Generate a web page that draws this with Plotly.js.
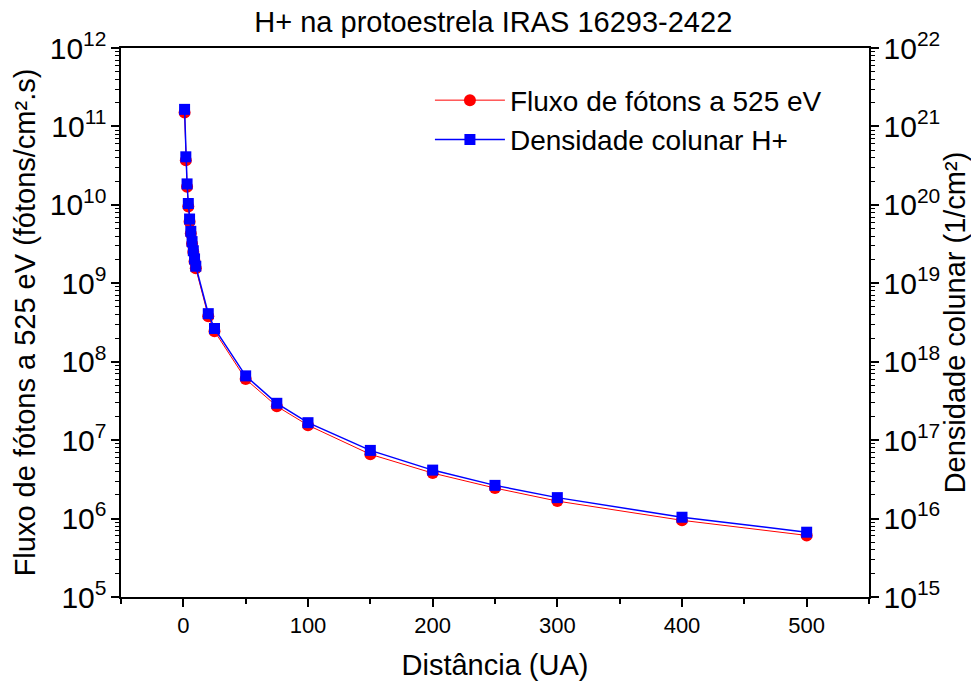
<!DOCTYPE html>
<html>
<head>
<meta charset="utf-8">
<script src="https://cdn.plot.ly/plotly-3.0.1.min.js"></script>
<style>html,body{margin:0;padding:0;background:#fff;}#chart{width:971px;height:686px;}</style>
</head>
<body>
<div id="chart"></div>
<script>
const distancia = [1, 2, 3, 4, 5, 6, 7, 8, 9, 10, 20, 25, 50, 75, 100, 150, 200, 250, 300, 400, 500];
const fluxo = [1.5e11, 3.7e10, 1.7e10, 9.5e9, 6.1e9, 4.3e9, 3.2e9, 2.5e9, 1.9e9, 1.55e9,
               3.8e8, 2.45e8, 6.0e7, 2.7e7, 1.55e7, 6.6e6, 3.8e6, 2.45e6, 1.67e6, 9.5e5, 6.1e5];
const densidade = [1.65e21, 4.1e20, 1.85e20, 1.04e20, 6.6e19, 4.6e19, 3.4e19, 2.6e19, 2.05e19, 1.65e19,
                   4.1e18, 2.65e18, 6.6e17, 2.95e17, 1.67e17, 7.4e16, 4.15e16, 2.65e16, 1.85e16, 1.04e16, 6.7e15];

const font = 'Liberation Sans, Arial, sans-serif';

const traces = [
  {
    x: distancia, y: fluxo, name: 'Fluxo de fótons a 525 eV', type: 'scatter', mode: 'lines+markers',
    line: {color: '#ff0000', width: 1}, marker: {symbol: 'circle', size: 12, color: '#ff0000'},
    yaxis: 'y'
  },
  {
    x: distancia, y: densidade, name: 'Densidade colunar H+', type: 'scatter', mode: 'lines+markers',
    line: {color: '#0000ff', width: 1.5}, marker: {symbol: 'square', size: 11, color: '#0000ff'},
    yaxis: 'y2'
  }
];

const layout = {
  width: 971, height: 686,
  margin: {l: 121, r: 102, t: 48, b: 89},
  paper_bgcolor: '#fff', plot_bgcolor: '#fff',
  font: {family: font, color: '#000', size: 22},
  title: {text: 'H+ na protoestrela IRAS 16293-2422', font: {size: 29}, x: 0.508, xanchor: 'center', y: 0.968, yanchor: 'middle'},
  showlegend: true,
  legend: {x: 0.413, y: 0.95, xanchor: 'left', yanchor: 'top', font: {size: 28}, bgcolor: 'rgba(0,0,0,0)', tracegroupgap: 0, itemwidth: 70},
  xaxis: {
    range: [-50, 550], dtick: 100, tick0: 0,
    showgrid: false, zeroline: false,
    showline: true, linecolor: '#000', linewidth: 1.5, mirror: true,
    ticks: 'outside', ticklen: 8, tickwidth: 1.5, tickcolor: '#000',
    minor: {dtick: 50, tick0: 0, ticks: 'outside', ticklen: 5, tickwidth: 1.5, tickcolor: '#000', showgrid: false},
    tickfont: {size: 22},
    title: {text: 'Distância (UA)', font: {size: 29}, standoff: 18}
  },
  yaxis: {
    type: 'log', range: [5, 12], dtick: 1,
    showgrid: false, zeroline: false,
    showline: true, linecolor: '#000', linewidth: 1.5,
    ticks: 'outside', ticklen: 8, tickwidth: 1.5, tickcolor: '#000',
    minor: {dtick: 'D1', ticks: 'outside', ticklen: 4, tickwidth: 1, tickcolor: '#000', showgrid: false},
    exponentformat: 'power', tickfont: {size: 24},
    title: {text: 'Fluxo de fótons a 525 eV (fótons/cm².s)', font: {size: 29}, standoff: 6}
  },
  yaxis2: {
    type: 'log', range: [15, 22], dtick: 1, overlaying: 'y', side: 'right',
    showgrid: false, zeroline: false,
    showline: true, linecolor: '#000', linewidth: 1.5,
    ticks: 'outside', ticklen: 8, tickwidth: 1.5, tickcolor: '#000',
    minor: {dtick: 'D1', ticks: 'outside', ticklen: 4, tickwidth: 1, tickcolor: '#000', showgrid: false},
    exponentformat: 'power', tickfont: {size: 24},
    title: {text: 'Densidade colunar (1/cm²)', font: {size: 29}, standoff: 6}
  }
};

Plotly.newPlot('chart', traces, layout, {displayModeBar: false, responsive: false});
</script>
</body>
</html>
